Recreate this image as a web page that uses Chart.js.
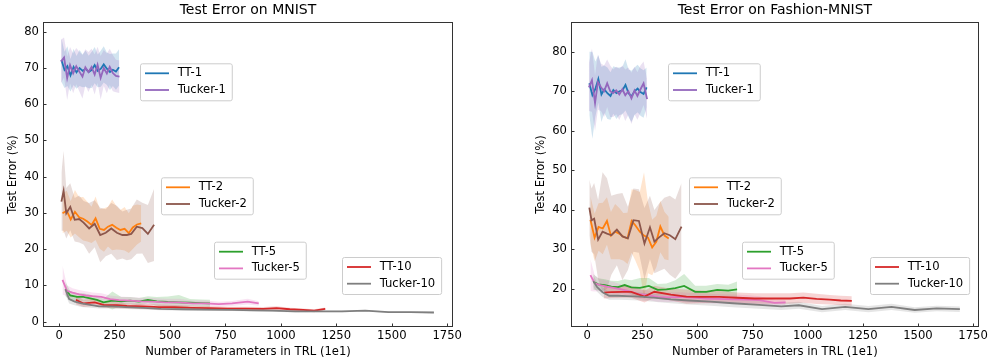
<!DOCTYPE html>
<html><head><meta charset="utf-8">
<script src="https://cdn.jsdelivr.net/npm/chart.js@4.4.0/dist/chart.umd.min.js"></script>
<style>
html,body{margin:0;padding:0;background:#fff;}
#wrap{position:relative;width:990px;height:362px;overflow:hidden;background:#fff;}
canvas{position:absolute;top:0;}
</style></head><body>
<div id="wrap"><canvas id="c1" width="495" height="362" style="left:0"></canvas><canvas id="c2" width="495" height="362" style="left:495px"></canvas></div>
<script>
// ---- tick labels ----
const xTicks = [0,250,500,750,1000,1250,1500,1750];
const yTicksMnist = [0,10,20,30,40,50,60,70,80];
const yTicksFashion = [20,30,40,50,60,70,80];

// ---- series ----
const seriesNames = ['TT-1','Tucker-1','TT-2','Tucker-2','TT-5','Tucker-5','TT-10','Tucker-10'];
const seriesColors = ['#1f77b4','#9467bd','#ff7f0e','#8c564b','#2ca02c','#e377c2','#d62728','#7f7f7f'];

// x positions (number of parameters, 1e1)
const xTT1 = [10,24,37,51,65,78,92,106,119,133,147,160,174,188,201,215,229,242,256,270];
const xTucker1 = [8,22,36,49,63,77,91,105,118,132,146,160,173,187,201,215,228,242,256,272];
const xTT2 = [15,34,52,71,90,108,127,146,164,183,202,220,239,258,276,295,314,332,351,370];
const xTucker2 = [10,20,32,50,70,90,110,135,160,185,210,235,260,285,305,325,350,375,400,428];
const xTT5 = [28,50,80,110,140,170,200,240,280,320,360,400,440,490,540,590,640,680];
const xTucker5 = [15,35,60,90,120,150,190,230,270,320,370,420,480,540,600,660,720,780,850,900];
const xTT10 = [75,110,160,200,260,305,380,450,520,600,680,760,840,920,980,1040,1100,1150,1200];
const xTucker10 = [28,45,70,100,140,180,240,300,380,460,560,660,780,880,960,1065,1170,1275,1380,1485,1585,1690];

// MNIST: mean and std test error (%)
const mnistTT1 = [72.2,69.5,70.5,68.0,70.3,68.8,70.0,69.2,69.8,68.9,69.5,70.8,69.2,69.8,71.0,69.8,68.9,69.5,69.0,70.2];
const mnistTT1Std = [6,5,5.5,4.5,5,4.5,5,4.5,5,4.5,5,5,4.5,5,5,4.5,5,4.5,5,5];
const mnistTucker1 = [71.8,72.9,67.2,70.8,68.5,70.5,69.0,67.6,70.2,68.9,70.3,68.2,70.9,67.3,70.0,68.5,70.3,68.6,67.8,67.6];
const mnistTucker1Std = [6,5.5,6,5,5.5,5,5.5,6,5,5.5,5,5.5,5,6,5,5.5,5,5,4.5,4.5];
const mnistTT2 = [29.9,30.6,28.2,30.3,28.8,28.4,27.6,26.7,28.5,25.6,25.3,26.2,26.7,25.9,25.3,25.6,24.4,26.0,26.8,27.1];
const mnistTT2Std = [5.5,5.5,5,6,5.5,6,5.5,5,6,5.5,6,5.5,7,6,5.5,6,5.5,6,5.5,5];
const mnistTucker2 = [33.1,36.1,29.9,31.7,28.1,28.3,27.3,25.7,27.0,23.9,24.5,25.7,24.5,23.9,23.9,24.2,26.2,25.8,24.2,26.7];
const mnistTucker2Std = [8,11,7,6.5,6,6.5,6,7,6.5,7.5,6.5,7,7.5,6.5,7,7,7.5,7,8,10];
const mnistTT5 = [9.0,7.2,6.8,6.8,6.4,6.0,5.3,5.8,5.6,5.8,5.5,6.0,5.6,5.4,5.3,5.2,5.1,5.0];
const mnistTT5Std = [2,1.2,1,1,1,1,1,2.5,1.2,1,1,1,1.2,1.5,2,1,1,1];
const mnistTucker5 = [11.5,8.5,8.0,7.5,7.2,7.0,6.8,6.2,5.9,5.8,5.6,5.5,5.3,5.3,5.0,5.0,4.8,5.0,5.5,5.0];
const mnistTucker5Std = [4,1.5,1.2,1.2,1.2,1,1,1,1,1,1,1,1,1,0.8,0.8,0.7,0.7,0.8,0.6];
const mnistTT10 = [6.0,5.0,5.3,4.6,4.5,4.3,4.2,4.0,4.0,3.8,3.7,3.6,3.6,3.5,3.7,3.4,3.2,3.0,3.5];
const mnistTT10Std = [1.2,1,1,0.8,0.8,0.7,0.7,0.7,0.6,0.6,0.5,0.5,0.5,0.5,0.5,0.4,0.4,0.4,0.4];
const mnistTucker10 = [8.9,6.2,5.5,5.0,4.6,4.2,4.2,4.0,3.8,3.5,3.4,3.3,3.2,3.1,3.0,2.8,2.8,2.8,3.0,2.6,2.6,2.5];
const mnistTucker10Std = [1.5,1.2,1,1,0.8,0.6,0.6,0.5,0.5,0.4,0.4,0.4,0.3,0.3,0.3,0.3,0.2,0.2,0.2,0.2,0.2,0.2];

// Fashion-MNIST: mean and std test error (%)
const fashionTT1 = [72.0,69.0,70.5,73.1,69.2,70.5,69.5,68.8,70.3,69.5,70.0,70.2,71.6,69.5,68.7,70.0,70.7,69.8,69.3,71.0];
const fashionTT1Std = [8,11,7,6,7,6,6.5,6,6,6.5,6,6,6.5,6,6.5,6,6,6,6,5];
const fashionTucker1 = [71.0,72.8,67.0,72.3,71.0,70.0,72.0,70.0,69.5,70.2,69.2,70.5,69.0,70.0,68.2,70.2,68.8,70.5,72.0,68.0];
const fashionTucker1Std = [6,8,7,7,6,6.5,6,6.5,6,6,6.5,6,6.5,6,6.5,6,6,6,5.5,5];
const fashionTT2 = [37.5,33.0,35.7,35.3,37.2,33.5,34.5,34.0,33.2,32.8,37.2,36.0,34.5,33.5,33.0,30.5,32.0,35.8,33.5,32.8];
const fashionTT2Std = [6,6,6,6.5,6,6,7,6.5,6,6.5,8,9,10,16,9,7,6.5,6.5,6,5.5];
const fashionTucker2 = [40.6,37.4,37.8,32.5,34.5,34.0,33.6,35.0,33.3,32.8,37.4,37.2,31.5,35.6,32.0,33.0,34.1,33.6,32.6,35.8];
const fashionTucker2Std = [7,8,9,10,15,14,10,9,11,8,8,8,9,8,8,8.5,9,10,10,11];
const fashionTT5 = [21.8,21.2,21.0,20.6,20.5,21.0,20.4,20.3,20.8,19.8,19.9,20.2,20.8,19.3,19.3,19.8,19.6,19.9];
const fashionTT5Std = [2,1.5,1.5,1.5,1.5,1.5,1.8,2.5,2,1.5,1.5,2,3,1.5,1.5,1.5,1.5,2];
const fashionTucker5 = [23.5,21.4,21.0,20.6,20.3,20.0,19.5,18.8,18.5,18.0,17.9,18.0,17.8,17.6,17.5,17.4,17.3,17.2,16.5,16.6];
const fashionTucker5Std = [4,2,1.5,1.5,1.5,1.2,1.2,1.2,1.2,1.2,1.2,1.2,1.2,1.2,1.2,1.2,1.2,1.0,0.8,0.6];
const fashionTT10 = [19.1,19.2,19.3,19.3,18.1,19.3,18.6,18.1,18.0,18.0,17.8,17.6,17.6,17.6,17.8,17.5,17.3,17.1,17.0];
const fashionTT10Std = [1.5,1.5,1.5,1.5,1.5,1.5,1.5,1.8,1.6,1.5,1.3,1.3,1.3,1.3,1.3,1.3,1.2,1.2,1.2];
const fashionTucker10 = [22.0,20.5,19.2,18.3,18.3,18.2,18.1,17.8,17.4,17.1,16.8,16.4,16.0,15.6,15.9,14.9,15.5,14.9,15.5,14.7,15.1,14.9];
const fashionTucker10Std = [1.5,1.2,1.2,1,1,1,1,1,1,1,1,1,1,0.9,0.9,0.8,0.8,0.8,0.8,0.7,0.7,0.7];

const xs = [xTT1,xTucker1,xTT2,xTucker2,xTT5,xTucker5,xTT10,xTucker10];
const mnistMeans = [mnistTT1,mnistTucker1,mnistTT2,mnistTucker2,mnistTT5,mnistTucker5,mnistTT10,mnistTucker10];
const mnistStds = [mnistTT1Std,mnistTucker1Std,mnistTT2Std,mnistTucker2Std,mnistTT5Std,mnistTucker5Std,mnistTT10Std,mnistTucker10Std];
const fashionMeans = [fashionTT1,fashionTucker1,fashionTT2,fashionTucker2,fashionTT5,fashionTucker5,fashionTT10,fashionTucker10];
const fashionStds = [fashionTT1Std,fashionTucker1Std,fashionTT2Std,fashionTucker2Std,fashionTT5Std,fashionTucker5Std,fashionTT10Std,fashionTucker10Std];

const FONT = '"DejaVu Sans", "Liberation Sans", sans-serif';
const FS = 11.6;

function hexA(hex, a){
  const n = parseInt(hex.slice(1),16);
  return `rgba(${(n>>16)&255},${(n>>8)&255},${n&255},${a})`;
}

function buildDatasets(means, stds){
  const ds = [];
  for (let k=0;k<8;k++){
    const x = xs[k], m = means[k], s = stds[k];
    const col = seriesColors[k];
    ds.push({data: x.map((v,i)=>({x:v,y:m[i]-s[i]})), borderWidth:0, pointRadius:0, fill:false, order:100-k, tension:0, borderColor:'rgba(0,0,0,0)'});
    ds.push({data: x.map((v,i)=>({x:v,y:m[i]+s[i]})), borderWidth:0, pointRadius:0, fill:'-1', backgroundColor:hexA(col,0.2), order:100-k, tension:0, borderColor:'rgba(0,0,0,0)'});
    ds.push({data: x.map((v,i)=>({x:v,y:m[i]})), borderWidth:1.8, pointRadius:0, fill:false, borderColor:col, order:-k, tension:0});
  }
  return ds;
}

// legend boxes: offsets relative to plot area
const legendGroups = [
  {items:[0,1], dx:97, dy:41.3},
  {items:[2,3], dx:118, dy:155.3},
  {items:[4,5], dx:171, dy:219.7},
  {items:[6,7], dx:299, dy:235}
];

const decor = {
  id:'decor',
  afterDraw(chart, args, opts){
    const {ctx, chartArea:a} = chart;
    const sx = chart.scales.x, sy = chart.scales.y;
    ctx.save();
    // inward ticks
    ctx.strokeStyle = '#333'; ctx.lineWidth = 1;
    ctx.beginPath();
    sx.ticks.forEach(t=>{ const p = Math.round(sx.getPixelForValue(t.value))+0.5; ctx.moveTo(p,a.bottom); ctx.lineTo(p,a.bottom-3.5); });
    sy.ticks.forEach(t=>{ const p = Math.round(sy.getPixelForValue(t.value))+0.5; ctx.moveTo(a.left,p); ctx.lineTo(a.left+3.5,p); });
    ctx.stroke();
    // frame
    ctx.strokeStyle = '#333';
    ctx.strokeRect(Math.round(a.left)+0.5, Math.round(a.top)+0.5, Math.round(a.right-a.left)-1, Math.round(a.bottom-a.top)-1);
    // title
    ctx.fillStyle = '#000';
    ctx.font = '14px ' + FONT;
    ctx.textAlign = 'center'; ctx.textBaseline = 'middle';
    ctx.fillText(opts.title, (a.left+a.right)/2, 10);
    // legends
    ctx.font = FS + 'px ' + FONT;
    ctx.textAlign = 'left';
    legendGroups.forEach(g=>{
      const tw = Math.max(...g.items.map(i=>ctx.measureText(seriesNames[i]).width));
      const bx = a.left + g.dx, by = a.top + g.dy;
      const bw = 5 + 24 + 8.7 + tw + 6, bh = 37;
      ctx.beginPath();
      if (ctx.roundRect) ctx.roundRect(bx+0.5, by+0.5, bw, bh, 2); else ctx.rect(bx+0.5, by+0.5, bw, bh);
      ctx.fillStyle = 'rgba(255,255,255,0.8)'; ctx.fill();
      ctx.strokeStyle = '#cccccc'; ctx.lineWidth = 1; ctx.stroke();
      g.items.forEach((i,r)=>{
        const ly = by + 10 + r*16.7;
        ctx.beginPath(); ctx.strokeStyle = seriesColors[i]; ctx.lineWidth = 1.8;
        ctx.moveTo(bx+5, ly); ctx.lineTo(bx+29, ly); ctx.stroke();
        ctx.fillStyle = '#000';
        ctx.fillText(seriesNames[i], bx+37.7, ly);
      });
    });
    ctx.restore();
  }
};

function makeChart(id, means, stds, title, yTicks, ymin, ymax, padL, padR){
  return new Chart(document.getElementById(id), {
    type:'line',
    data:{datasets: buildDatasets(means, stds)},
    options:{
      responsive:false, animation:false, devicePixelRatio:1,
      layout:{padding:{left:padL, right:padR, top:22, bottom:0}},
      plugins:{legend:{display:false}, tooltip:{enabled:false}, decor:{title}},
      scales:{
        x:{type:'linear', min:-73, max:1776,
           afterBuildTicks:s=>{ s.ticks = xTicks.map(v=>({value:v})); },
           afterFit:s=>{ s.height = 35; },
           grid:{display:false, drawTicks:false}, border:{display:false},
           ticks:{autoSkip:false, maxRotation:0, padding:2, color:'#000', font:{family:FONT, size:FS}, callback:v=>String(v)},
           title:{display:true, text:'Number of Parameters in TRL (1e1)', color:'#000', font:{family:FONT, size:FS}, padding:{top:0,bottom:3.3}}},
        y:{type:'linear', min:ymin, max:ymax,
           afterBuildTicks:s=>{ s.ticks = yTicks.map(v=>({value:v})); },
           afterFit:s=>{ s.width = 43; },
           grid:{display:false, drawTicks:false}, border:{display:false},
           ticks:{autoSkip:false, padding:4, color:'#000', font:{family:FONT, size:FS}, callback:v=>String(v)},
           title:{display:true, text:'Test Error (%)', color:'#000', font:{family:FONT, size:FS}, padding:{top:6.5,bottom:0}}}
      }
    },
    plugins:[decor]
  });
}

makeChart('c1', mnistMeans, mnistStds, 'Test Error on MNIST', yTicksMnist, -1.5, 82.7, 0, 42);
makeChart('c2', fashionMeans, fashionStds, 'Test Error on Fashion-MNIST', yTicksFashion, 10.4, 87.5, 33, 9);
</script>
</body></html>
